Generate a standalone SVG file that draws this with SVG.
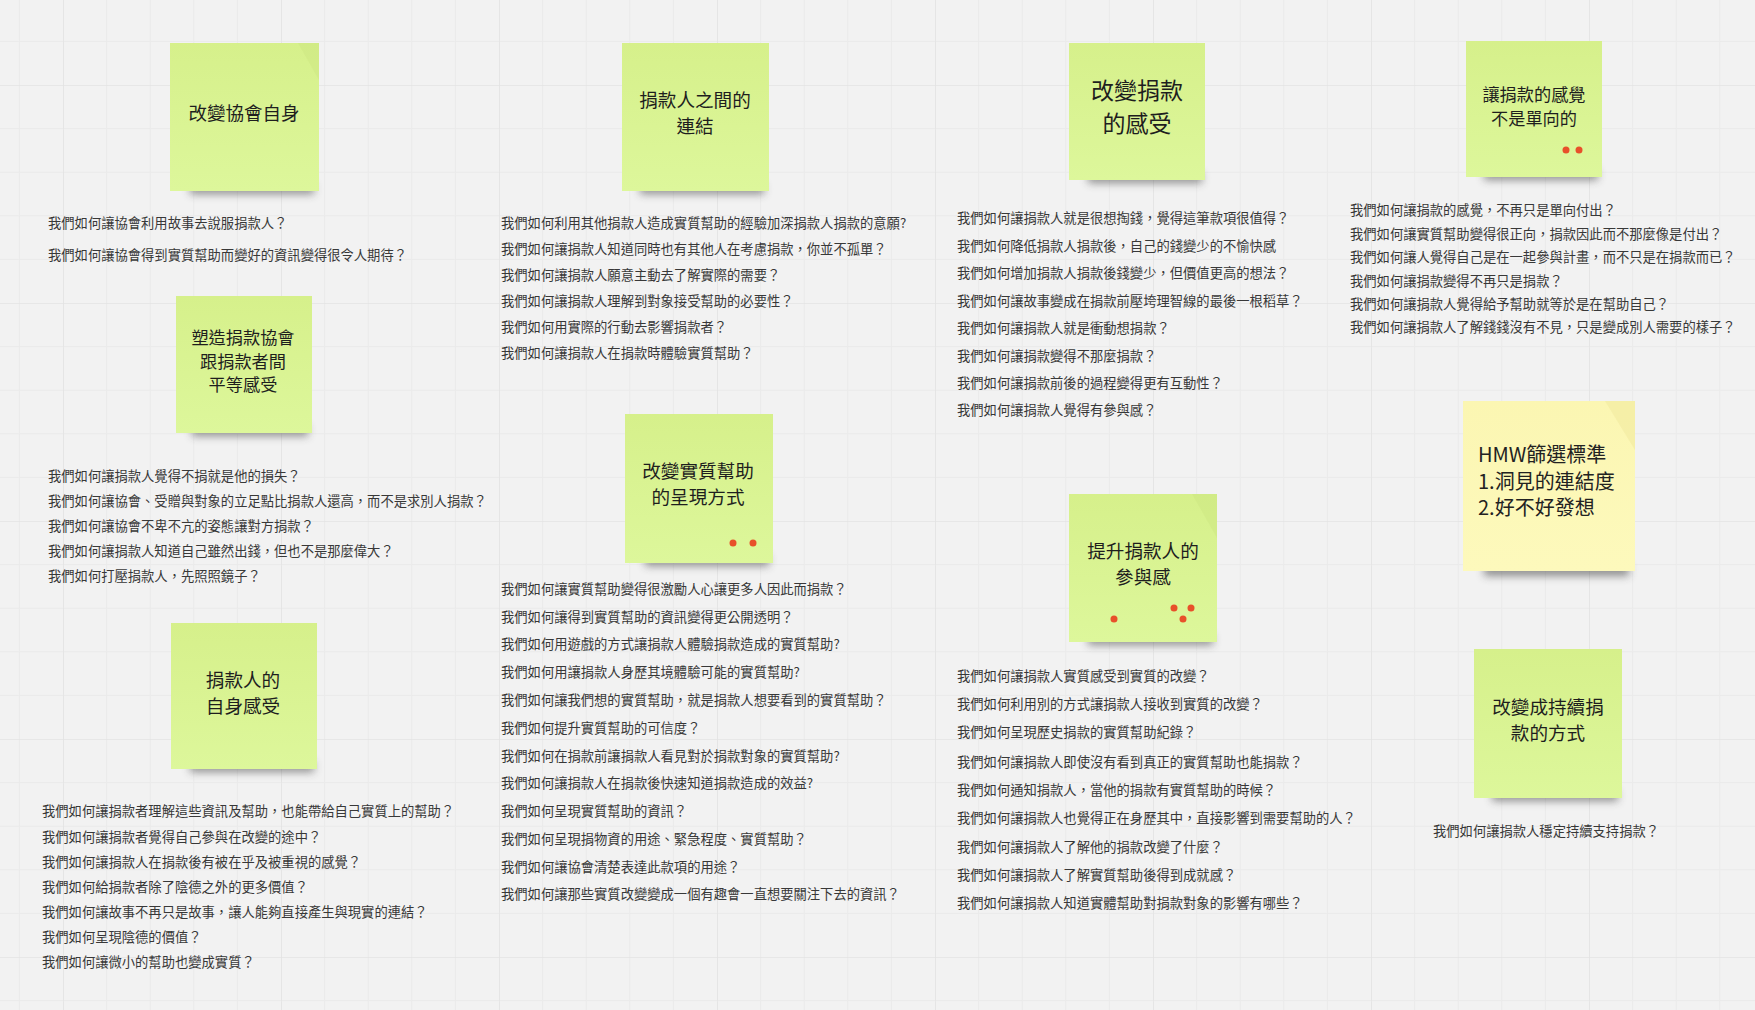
<svg xmlns="http://www.w3.org/2000/svg" width="1755" height="1010" viewBox="0 0 1755 1010">
<defs>
<pattern id="grid" patternUnits="userSpaceOnUse" x="63" y="85" width="218" height="218">
<path d="M43.6 0V218M87.2 0V218M130.8 0V218M174.4 0V218M0 43.6H218M0 87.2H218M0 130.8H218M0 174.4H218" stroke="#eaeaea" stroke-width="1" fill="none"/>
<path d="M0 0V218M0 0H218" stroke="#e3e3e3" stroke-width="1.6" fill="none"/>
</pattern>
<linearGradient id="gg" x1="0" y1="0" x2="0" y2="1">
<stop offset="0" stop-color="#d6f08b"/>
<stop offset="1" stop-color="#ddf79b"/>
</linearGradient>
<linearGradient id="yg" x1="0" y1="0" x2="0" y2="1">
<stop offset="0" stop-color="#fbf6b2"/>
<stop offset="1" stop-color="#fdf9bc"/>
</linearGradient>
<filter id="blur" x="-20%" y="-200%" width="140%" height="500%">
<feGaussianBlur stdDeviation="4"/>
</filter>
</defs>
<style>
.note{fill:url(#gg)}
.ynote{fill:url(#yg)}
.shd{fill:#3a3a3a;opacity:.55;filter:url(#blur)}
.fold{fill:#c9e27e;opacity:.35}
.t{font-family:"Noto Sans CJK TC","Noto Sans CJK SC",sans-serif;fill:#1e1e1e;text-anchor:middle}
.ht{font-family:"Noto Sans CJK TC","Noto Sans CJK SC",sans-serif;fill:#222;font-size:20px}
.q{font-family:"Noto Sans CJK TC","Noto Sans CJK SC",sans-serif;fill:#383838;font-size:13.3px}
.dot{fill:#e8502a}
</style>
<rect width="1755" height="1010" fill="#f2f2f2"/>
<rect width="1755" height="1010" fill="url(#grid)"/>

<g id="connectors"></g>

<g id="n1">
<rect class="shd" x="190" y="184" width="124" height="10"/>
<rect class="note" x="170" y="43" width="149" height="148"/>
<path class="fold" d="M298 43L319 43L319 80Z"/>
<text class="t" x="244" y="120" font-size="18.5">改變協會自身</text>
</g>

<g id="n2">
<rect class="shd" x="192" y="426" width="116" height="10"/>
<rect class="note" x="176" y="296" width="136" height="137"/>
<text class="t" x="243" y="343.5" font-size="17.2">塑造捐款協會</text>
<text class="t" x="243" y="367.5" font-size="17.2">跟捐款者間</text>
<text class="t" x="243" y="390.5" font-size="17.2">平等感受</text>
</g>

<g id="n3">
<rect class="shd" x="190" y="762" width="124" height="10"/>
<rect class="note" x="171" y="623" width="146" height="146"/>
<text class="t" x="243" y="687" font-size="18.6">捐款人的</text>
<text class="t" x="243" y="713" font-size="18.6">自身感受</text>
</g>

<g id="n4">
<rect class="shd" x="640" y="184" width="124" height="10"/>
<rect class="note" x="622" y="43" width="147" height="148"/>
<text class="t" x="695" y="107" font-size="18.6">捐款人之間的</text>
<text class="t" x="695" y="133" font-size="18.6">連結</text>
</g>

<g id="n5">
<rect class="shd" x="645" y="556" width="124" height="10"/>
<rect class="note" x="625" y="414" width="148" height="149"/>
<text class="t" x="698" y="478" font-size="18.6">改變實質幫助</text>
<text class="t" x="698" y="504" font-size="18.6">的呈現方式</text>
<circle class="dot" cx="733" cy="543" r="3.5"/>
<circle class="dot" cx="753" cy="543" r="3.5"/>
</g>

<g id="n6">
<rect class="shd" x="1088" y="173" width="114" height="10"/>
<rect class="note" x="1069" y="43" width="136" height="137"/>
<text class="t" x="1137" y="98.5" font-size="23">改變捐款</text>
<text class="t" x="1137" y="131.5" font-size="23">的感受</text>
</g>

<g id="n7">
<rect class="shd" x="1088" y="635" width="125" height="10"/>
<rect class="note" x="1069" y="494" width="148" height="148"/>
<path class="fold" d="M1192 494L1217 494L1217 538Z"/>
<text class="t" x="1143" y="558" font-size="18.6">提升捐款人的</text>
<text class="t" x="1143" y="584" font-size="18.6">參與感</text>
<circle class="dot" cx="1114" cy="619" r="3.5"/>
<circle class="dot" cx="1174" cy="608" r="3.5"/>
<circle class="dot" cx="1191" cy="608" r="3.5"/>
<circle class="dot" cx="1183" cy="619" r="3.5"/>
</g>

<g id="n8">
<rect class="shd" x="1484" y="170" width="114" height="10"/>
<rect class="note" x="1466" y="41" width="136" height="136"/>
<text class="t" x="1534" y="100.5" font-size="17.2">讓捐款的感覺</text>
<text class="t" x="1534" y="124.5" font-size="17.2">不是單向的</text>
<circle class="dot" cx="1566" cy="150" r="3.5"/>
<circle class="dot" cx="1579" cy="150" r="3.5"/>
</g>

<g id="n9">
<rect class="shd" x="1484" y="564" width="145" height="12"/>
<rect class="ynote" x="1463" y="401" width="172" height="170"/>
<path d="M1605 401L1635 401L1635 450Z" fill="#efe79c" opacity=".5"/>
<text class="ht" x="1478" y="461.5">HMW篩選標準</text>
<text class="ht" x="1478" y="488.5">1.洞見的連結度</text>
<text class="ht" x="1478" y="514.5">2.好不好發想</text>
</g>

<g id="n10">
<rect class="shd" x="1492" y="791" width="126" height="10"/>
<rect class="note" x="1474" y="649" width="148" height="149"/>
<text class="t" x="1548" y="714" font-size="18.6">改變成持續捐</text>
<text class="t" x="1548" y="740" font-size="18.6">款的方式</text>
</g>

<g id="q1">
<text class="q" x="48" y="228">我們如何讓協會利用故事去說服捐款人？</text>
<text class="q" x="48" y="260">我們如何讓協會得到實質幫助而變好的資訊變得很令人期待？</text>
</g>
<g id="q2">
<text class="q" x="48" y="481">我們如何讓捐款人覺得不捐就是他的損失？</text>
<text class="q" x="48" y="506">我們如何讓協會、受贈與對象的立足點比捐款人還高，而不是求別人捐款？</text>
<text class="q" x="48" y="531">我們如何讓協會不卑不亢的姿態讓對方捐款？</text>
<text class="q" x="48" y="556">我們如何讓捐款人知道自己雖然出錢，但也不是那麼偉大？</text>
<text class="q" x="48" y="581">我們如何打壓捐款人，先照照鏡子？</text>
</g>
<g id="q3">
<text class="q" x="42" y="816">我們如何讓捐款者理解這些資訊及幫助，也能帶給自己實質上的幫助？</text>
<text class="q" x="42" y="842">我們如何讓捐款者覺得自己參與在改變的途中？</text>
<text class="q" x="42" y="867">我們如何讓捐款人在捐款後有被在乎及被重視的感覺？</text>
<text class="q" x="42" y="892">我們如何給捐款者除了陰德之外的更多價值？</text>
<text class="q" x="42" y="917">我們如何讓故事不再只是故事，讓人能夠直接產生與現實的連結？</text>
<text class="q" x="42" y="942">我們如何呈現陰德的價值？</text>
<text class="q" x="42" y="967">我們如何讓微小的幫助也變成實質？</text>
</g>
<g id="q4">
<text class="q" x="501" y="228">我們如何利用其他捐款人造成實質幫助的經驗加深捐款人捐款的意願?</text>
<text class="q" x="501" y="254">我們如何讓捐款人知道同時也有其他人在考慮捐款，你並不孤單？</text>
<text class="q" x="501" y="280">我們如何讓捐款人願意主動去了解實際的需要？</text>
<text class="q" x="501" y="306">我們如何讓捐款人理解到對象接受幫助的必要性？</text>
<text class="q" x="501" y="332">我們如何用實際的行動去影響捐款者？</text>
<text class="q" x="501" y="358">我們如何讓捐款人在捐款時體驗實質幫助？</text>
</g>
<g id="q5">
<text class="q" x="501" y="594">我們如何讓實質幫助變得很激勵人心讓更多人因此而捐款？</text>
<text class="q" x="501" y="622">我們如何讓得到實質幫助的資訊變得更公開透明？</text>
<text class="q" x="501" y="649">我們如何用遊戲的方式讓捐款人體驗捐款造成的實質幫助?</text>
<text class="q" x="501" y="677">我們如何用讓捐款人身歷其境體驗可能的實質幫助?</text>
<text class="q" x="501" y="705">我們如何讓我們想的實質幫助，就是捐款人想要看到的實質幫助？</text>
<text class="q" x="501" y="733">我們如何提升實質幫助的可信度？</text>
<text class="q" x="501" y="761">我們如何在捐款前讓捐款人看見對於捐款對象的實質幫助?</text>
<text class="q" x="501" y="788">我們如何讓捐款人在捐款後快速知道捐款造成的效益?</text>
<text class="q" x="501" y="816">我們如何呈現實質幫助的資訊？</text>
<text class="q" x="501" y="844">我們如何呈現捐物資的用途、緊急程度、實質幫助？</text>
<text class="q" x="501" y="872">我們如何讓協會清楚表達此款項的用途？</text>
<text class="q" x="501" y="899">我們如何讓那些實質改變變成一個有趣會一直想要關注下去的資訊？</text>
</g>
<g id="q6">
<text class="q" x="957" y="223">我們如何讓捐款人就是很想掏錢，覺得這筆款項很值得？</text>
<text class="q" x="957" y="251">我們如何降低捐款人捐款後，自己的錢變少的不愉快感</text>
<text class="q" x="957" y="278">我們如何增加捐款人捐款後錢變少，但價值更高的想法？</text>
<text class="q" x="957" y="306">我們如何讓故事變成在捐款前壓垮理智線的最後一根稻草？</text>
<text class="q" x="957" y="333">我們如何讓捐款人就是衝動想捐款？</text>
<text class="q" x="957" y="361">我們如何讓捐款變得不那麼捐款？</text>
<text class="q" x="957" y="388">我們如何讓捐款前後的過程變得更有互動性？</text>
<text class="q" x="957" y="415">我們如何讓捐款人覺得有參與感？</text>
</g>
<g id="q7">
<text class="q" x="957" y="681">我們如何讓捐款人實質感受到實質的改變？</text>
<text class="q" x="957" y="709">我們如何利用別的方式讓捐款人接收到實質的改變？</text>
<text class="q" x="957" y="737">我們如何呈現歷史捐款的實質幫助紀錄？</text>
<text class="q" x="957" y="767">我們如何讓捐款人即使沒有看到真正的實質幫助也能捐款？</text>
<text class="q" x="957" y="795">我們如何通知捐款人，當他的捐款有實質幫助的時候？</text>
<text class="q" x="957" y="823">我們如何讓捐款人也覺得正在身歷其中，直接影響到需要幫助的人？</text>
<text class="q" x="957" y="852">我們如何讓捐款人了解他的捐款改變了什麼？</text>
<text class="q" x="957" y="880">我們如何讓捐款人了解實質幫助後得到成就感？</text>
<text class="q" x="957" y="908">我們如何讓捐款人知道實體幫助對捐款對象的影響有哪些？</text>
</g>
<g id="q8">
<text class="q" x="1350" y="215">我們如何讓捐款的感覺，不再只是單向付出？</text>
<text class="q" x="1350" y="239">我們如何讓實質幫助變得很正向，捐款因此而不那麼像是付出？</text>
<text class="q" x="1350" y="262">我們如何讓人覺得自己是在一起參與計畫，而不只是在捐款而已？</text>
<text class="q" x="1350" y="286">我們如何讓捐款變得不再只是捐款？</text>
<text class="q" x="1350" y="309">我們如何讓捐款人覺得給予幫助就等於是在幫助自己？</text>
<text class="q" x="1350" y="332">我們如何讓捐款人了解錢錢沒有不見，只是變成別人需要的樣子？</text>
</g>
<g id="q9">
<text class="q" x="1433" y="836">我們如何讓捐款人穩定持續支持捐款？</text>
</g>
</svg>
